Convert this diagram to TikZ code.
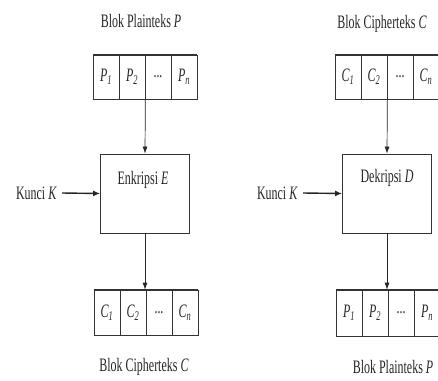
\documentclass[tikz,border=0pt]{standalone}
\usepackage{fontspec}
\setmainfont{Liberation Serif}[FakeStretch=0.63]
\usetikzlibrary{arrows.meta}
\newcommand{\blk}[2]{{\itshape #1}\textsubscript{\itshape #2}}
\begin{document}
\begin{tikzpicture}[x=1pt,y=-1pt,
  txt/.style={inner sep=0pt, font=\fontsize{19}{22}\selectfont, text=black!85},
  cell/.style={draw=black!80, line width=0.7pt, minimum width=26pt,
    minimum height=44pt, inner sep=0pt, font=\fontsize{19}{22}\selectfont, text=black!85},
  rim/.style={draw=black!80, line width=1.4pt},
  proc/.style={draw=black!80, line width=0.8pt, minimum width=89pt,
    minimum height=79pt, inner sep=0pt},
  flow/.style={draw=black!85, line width=0.7pt, -{Latex[length=7pt,width=5pt]}},
  keyarrow/.style={draw=black!85, line width=1.4pt, -{Latex[length=7pt,width=6pt]}}
]
\useasboundingbox (0,0) rectangle (438,380);

% ---------- encryption ----------
\node[txt] (tP) at (141,21) {Blok Plainteks \textit{P}};
\node[cell] (p1) at (106,77) {\blk{P}{1}};
\node[cell] (p2) at (132,77) {\blk{P}{2}};
\node[cell] (p3) at (158,77) {...};
\node[cell] (p4) at (184,77) {\blk{P}{n}};
\draw[rim] (p1.north west) -- (p4.north east);
\draw[rim] (p1.south west) -- (p4.south east);

\node[proc] (enc) at (145,193.5) {};
\node[txt] (encl) at (143,180) {Enkripsi \textit{E}};
\node[txt, anchor=east] (kE) at (57,193) {Kunci \textit{K}};

\node[cell, minimum height=45pt] (c1) at (107,312.5) {\blk{C}{1}};
\node[cell, minimum height=45pt] (c2) at (133,312.5) {\blk{C}{2}};
\node[cell, minimum height=45pt] (c3) at (159,312.5) {...};
\node[cell, minimum height=45pt] (c4) at (185,312.5) {\blk{C}{n}};
\draw[rim] (c1.north west) -- (c4.north east);
\draw[rim] (c1.south west) -- (c4.south east);
\node[txt] (bC) at (144,367) {Blok Cipherteks \textit{C}};

\draw[flow] (p2.south east) -- (enc.north);
\draw[flow] (enc.south) -- (enc.south |- c2.north);
\draw[keyarrow] ([xshift=5pt]kE.east) -- (enc.west);

% ---------- decryption ----------
\node[txt] (tC) at (382,24) {Blok Cipherteks \textit{C}};
\node[cell] (d1) at (348,77) {\blk{C}{1}};
\node[cell] (d2) at (374,77) {\blk{C}{2}};
\node[cell] (d3) at (400,77) {...};
\node[cell] (d4) at (426,77) {\blk{C}{n}};
\draw[rim] (d1.north west) -- (d4.north east);
\draw[rim] (d1.south west) -- (d4.south east);

\node[proc] (dec) at (387,193.5) {};
\node[txt] (decl) at (387,178) {Dekripsi \textit{D}};
\node[txt, anchor=east] (kD) at (298,193) {Kunci \textit{K}};

\node[cell, minimum height=46pt] (q1) at (349,313) {\blk{P}{1}};
\node[cell, minimum height=46pt] (q2) at (375,313) {\blk{P}{2}};
\node[cell, minimum height=46pt] (q3) at (401,313) {...};
\node[cell, minimum height=46pt] (q4) at (427,313) {\blk{P}{n}};
\draw[rim] (q1.north west) -- (q4.north east);
\draw[rim] (q1.south west) -- (q4.south east);
\node[txt] (bP) at (393,367) {Blok Plainteks \textit{P}};

\draw[flow] (d2.south east) -- (dec.north);
\draw[flow] (dec.south) -- (dec.south |- q2.north);
\draw[keyarrow] ([xshift=5pt]kD.east) -- (dec.west);
\end{tikzpicture}
\end{document}
